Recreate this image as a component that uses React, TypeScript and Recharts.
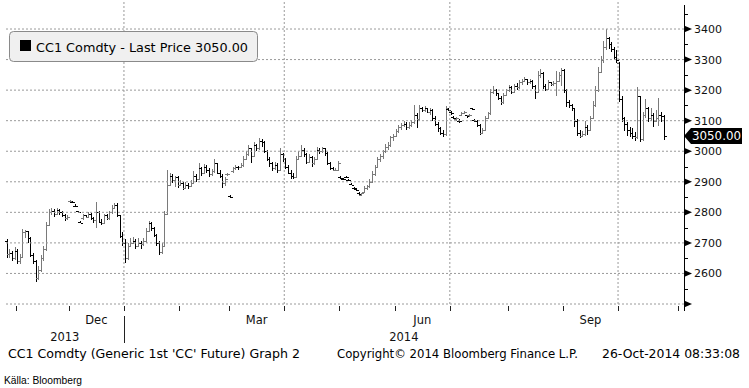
import React from 'react';
import { ComposedChart, Bar, XAxis, YAxis, ReferenceLine } from 'recharts';

// ---- Data: CC1 Comdty daily OHLC, 28-Oct-2013 .. 24-Oct-2014 (trading-day index) ----
const opens = [
  2705, 2665, 2668, 2652, 2675, 2640, 2655, 2735, 2738, 2715,
  2662, 2640, 2585, 2612, 2650, 2680, 2760, 2800, 2805, 2795,
  2808, 2800, 2790, 2780, 2836, 2835, 2822, 2803, 2768, 2780,
  2790, 2785, 2795, 2780, 2775, 2800, 2770, 2765, 2790, 2780,
  2800, 2815, 2825, 2790, 2722, 2700, 2650, 2690, 2700, 2705,
  2690, 2700, 2695, 2705, 2740, 2765, 2750, 2725, 2700, 2670,
  2690, 2795, 2890, 2920, 2905, 2915, 2890, 2895, 2880, 2890,
  2885, 2895, 2920, 2910, 2945, 2930, 2950, 2940, 2925, 2935,
  2960, 2930, 2920, 2895, 2925, 2852, 2935, 2945, 2950, 2948,
  2955, 2975, 2990, 3010, 2985, 3020, 3010, 3035, 3030, 3000,
  2975, 2960, 2945, 2955, 2940, 2990, 2975, 2950, 2930, 2920,
  2915, 2975, 2985, 3005, 2990, 2965, 2980, 2960, 2975, 3005,
  3000, 3010, 2995, 2960, 2945, 2940, 2940, 2915, 2910, 2917,
  2906, 2893, 2880, 2877, 2862, 2858, 2865, 2880, 2885, 2900,
  2925, 2950, 2975, 2985, 3000, 3015, 3020, 3045, 3050, 3065,
  3080, 3085, 3090, 3080, 3085, 3095, 3120, 3105, 3140, 3135,
  3140, 3130, 3135, 3110, 3090, 3075, 3060, 3055, 3138, 3128,
  3112, 3106, 3100, 3118, 3126, 3117, 3118, 3140, 3102, 3100,
  3085, 3060, 3070, 3110, 3125, 3195, 3200, 3190, 3175, 3160,
  3185, 3200, 3210, 3195, 3215, 3210, 3225, 3230, 3235, 3225,
  3230, 3215, 3195, 3250, 3255, 3215, 3205, 3225, 3220, 3222,
  3230, 3250, 3265, 3200, 3160, 3150, 3140, 3100, 3060, 3050,
  3055, 3080, 3070, 3110, 3150, 3200, 3260, 3300, 3340, 3370,
  3350, 3335, 3310, 3290, 3170, 3110, 3090, 3070, 3060, 3050,
  3045, 3180, 3040, 3120, 3140, 3110, 3120, 3100, 3110, 3120, 3115,
];
const highs = [
  2713, 2680, 2675, 2685, 2680, 2665, 2745, 2743, 2740, 2720,
  2668, 2645, 2625, 2660, 2690, 2770, 2812, 2815, 2810, 2815,
  2812, 2805, 2795, 2792, 2840, 2837, 2826, 2806, 2772, 2795,
  2792, 2800, 2798, 2785, 2835, 2805, 2778, 2795, 2795, 2805,
  2825, 2832, 2830, 2792, 2735, 2712, 2700, 2715, 2720, 2712,
  2715, 2705, 2715, 2750, 2773, 2770, 2752, 2730, 2705, 2700,
  2805, 2938, 2930, 2925, 2920, 2918, 2905, 2898, 2900, 2895,
  2905, 2935, 2925, 2960, 2950, 2958, 2955, 2945, 2942, 2975,
  2962, 2940, 2925, 2915, 2930, 2856, 2948, 2955, 2952, 2960,
  2985, 3000, 3020, 3012, 3030, 3025, 3042, 3040, 3032, 3005,
  2982, 2965, 2965, 2960, 3010, 2995, 2978, 2955, 2938, 2930,
  2985, 3000, 3020, 3010, 2995, 2990, 2985, 2982, 3015, 3010,
  3015, 3012, 2998, 2965, 2950, 2945, 2968, 2918, 2913, 2920,
  2910, 2897, 2884, 2880, 2865, 2864, 2885, 2890, 2910, 2935,
  2955, 2980, 2992, 3005, 3025, 3030, 3050, 3058, 3072, 3085,
  3092, 3098, 3095, 3095, 3102, 3150, 3125, 3150, 3145, 3148,
  3142, 3140, 3138, 3115, 3095, 3080, 3068, 3148, 3142, 3132,
  3115, 3112, 3104, 3128, 3132, 3120, 3122, 3143, 3105, 3102,
  3090, 3075, 3115, 3130, 3205, 3215, 3205, 3192, 3180, 3190,
  3205, 3218, 3212, 3220, 3222, 3232, 3238, 3242, 3238, 3235,
  3232, 3218, 3262, 3268, 3258, 3220, 3232, 3228, 3230, 3262,
  3258, 3272, 3268, 3205, 3168, 3155, 3142, 3105, 3068, 3065,
  3100, 3085, 3115, 3165, 3215, 3275, 3312, 3362, 3400, 3375,
  3358, 3340, 3330, 3292, 3180, 3112, 3095, 3080, 3075, 3062,
  3210, 3182, 3130, 3170, 3145, 3140, 3125, 3135, 3175, 3130, 3120,
];
const lows = [
  2650, 2650, 2640, 2645, 2632, 2630, 2650, 2715, 2700, 2655,
  2630, 2572, 2580, 2605, 2640, 2675, 2755, 2790, 2785, 2790,
  2792, 2785, 2772, 2775, 2834, 2831, 2818, 2798, 2764, 2775,
  2780, 2780, 2775, 2765, 2750, 2765, 2760, 2762, 2775, 2775,
  2795, 2810, 2785, 2715, 2690, 2635, 2645, 2685, 2695, 2680,
  2685, 2680, 2690, 2700, 2735, 2740, 2720, 2690, 2662, 2665,
  2688, 2790, 2885, 2895, 2882, 2880, 2885, 2872, 2875, 2878,
  2882, 2892, 2898, 2905, 2920, 2925, 2930, 2915, 2920, 2930,
  2925, 2912, 2880, 2885, 2920, 2847, 2930, 2940, 2940, 2944,
  2950, 2970, 2985, 2960, 2980, 3000, 3005, 3015, 2995, 2968,
  2950, 2935, 2940, 2930, 2935, 2965, 2942, 2925, 2910, 2908,
  2912, 2970, 2980, 2982, 2958, 2960, 2950, 2955, 2970, 2990,
  2995, 2985, 2955, 2940, 2935, 2935, 2935, 2910, 2905, 2912,
  2902, 2888, 2876, 2870, 2856, 2855, 2862, 2872, 2880, 2895,
  2920, 2945, 2965, 2975, 2995, 3005, 3015, 3035, 3045, 3060,
  3070, 3078, 3070, 3072, 3080, 3090, 3075, 3100, 3128, 3130,
  3125, 3120, 3100, 3082, 3062, 3052, 3048, 3050, 3132, 3120,
  3104, 3100, 3094, 3115, 3122, 3110, 3112, 3134, 3096, 3080,
  3052, 3055, 3065, 3105, 3120, 3188, 3180, 3168, 3152, 3155,
  3180, 3195, 3188, 3190, 3200, 3205, 3218, 3225, 3218, 3220,
  3205, 3172, 3190, 3240, 3205, 3198, 3200, 3212, 3215, 3180,
  3225, 3215, 3190, 3145, 3140, 3132, 3080, 3050, 3042, 3045,
  3050, 3052, 3065, 3105, 3145, 3195, 3255, 3290, 3330, 3335,
  3325, 3300, 3290, 3160, 3095, 3065, 3050, 3045, 3040, 3035,
  3040, 3030, 3035, 3110, 3095, 3100, 3080, 3095, 3082, 3095, 3038,
];
const closes = [
  2665, 2668, 2652, 2675, 2640, 2655, 2735, 2738, 2715, 2662,
  2640, 2585, 2612, 2650, 2680, 2760, 2800, 2805, 2795, 2808,
  2800, 2790, 2780, 2785, 2838, 2833, 2820, 2800, 2766, 2790,
  2785, 2795, 2780, 2775, 2800, 2770, 2765, 2790, 2780, 2800,
  2815, 2825, 2790, 2722, 2700, 2650, 2690, 2700, 2705, 2690,
  2700, 2695, 2705, 2740, 2765, 2750, 2725, 2700, 2670, 2690,
  2795, 2890, 2920, 2905, 2915, 2890, 2895, 2880, 2890, 2885,
  2895, 2920, 2910, 2945, 2930, 2950, 2940, 2925, 2935, 2960,
  2930, 2920, 2895, 2910, 2926, 2850, 2945, 2950, 2948, 2955,
  2975, 2990, 3010, 2985, 3020, 3010, 3035, 3030, 3000, 2975,
  2960, 2945, 2955, 2940, 2990, 2975, 2950, 2930, 2920, 2915,
  2975, 2985, 3005, 2990, 2965, 2980, 2960, 2975, 3005, 3000,
  3010, 2995, 2960, 2945, 2940, 2940, 2962, 2912, 2908, 2915,
  2905, 2890, 2879, 2873, 2860, 2862, 2880, 2885, 2900, 2925,
  2950, 2975, 2985, 3000, 3015, 3020, 3045, 3050, 3065, 3080,
  3085, 3090, 3080, 3085, 3095, 3120, 3105, 3140, 3135, 3140,
  3130, 3135, 3110, 3090, 3075, 3060, 3055, 3140, 3136, 3124,
  3108, 3110, 3098, 3125, 3130, 3114, 3120, 3138, 3100, 3085,
  3060, 3070, 3110, 3125, 3195, 3200, 3190, 3175, 3160, 3185,
  3200, 3210, 3195, 3215, 3210, 3225, 3230, 3235, 3225, 3230,
  3215, 3195, 3250, 3255, 3215, 3205, 3225, 3220, 3222, 3230,
  3250, 3265, 3200, 3160, 3150, 3140, 3100, 3060, 3050, 3055,
  3080, 3070, 3110, 3150, 3200, 3260, 3300, 3340, 3370, 3350,
  3335, 3310, 3300, 3170, 3110, 3090, 3070, 3060, 3050, 3045,
  3180, 3040, 3120, 3140, 3110, 3120, 3100, 3110, 3120, 3115, 3050,
];

// x-axis (trading-day index) ticks
const monthStarts = [3.5, 23.5, 44.5, 65.5, 84.5, 105.5, 126.5, 147.5, 168.5, 190.5, 211.5, 232.5, 255.5];
const monthLabels = ['Dec', 'Mar', 'Jun', 'Sep'];
const monthLabelPos = [34, 95, 158, 222];
const yearLabels = ['2013', '2014'];
const yearLabelPos = [22, 151];
const yearStart = 44.5;
const quarterLines = [44.5, 105.5, 168.5, 232.5];
const priceTicks = [2500, 2600, 2700, 2800, 2900, 3000, 3100, 3200, 3300, 3400];
const minorTicks = [2550, 2650, 2750, 2850, 2950, 3050, 3150, 3250, 3350, 3450];

const W = 749;
const H = 388;
const PLOT_BOTTOM = 304;
const PLOT_RIGHT = 684;
const FONT = "'DejaVu Sans', Verdana, sans-serif";

const rows = opens.map((o, i) => ({
  i,
  o,
  h: highs[i],
  l: lows[i],
  c: closes[i],
  range: [lows[i], highs[i]],
}));
const lastClose = closes[closes.length - 1];

const OhlcShape = (props: any) => {
  const { x, y, width, height, payload } = props;
  if (x == null || y == null || !payload) return null;
  const top = Math.min(y, y + height);
  const bot = Math.max(y, y + height);
  const span = payload.h - payload.l || 1;
  const toY = (v: number) => top + ((payload.h - v) / span) * (bot - top);
  const cx = Math.round(x + width / 2) + 0.5;
  const up = payload.c >= payload.o;
  const col = up ? '#7a7a7a' : '#000';
  const yo = Math.round(toY(payload.o)) + 0.5;
  const yc = Math.round(toY(payload.c)) + 0.5;
  return (
    <g stroke={col} strokeWidth={1} shapeRendering="crispEdges">
      <line x1={cx} x2={cx} y1={top} y2={Math.max(bot, top + 1)} />
      <line x1={cx - 2.5} x2={cx} y1={yo} y2={yo} />
      <line x1={cx} x2={cx + 2.5} y1={yc} y2={yc} />
    </g>
  );
};

const XTick = (props: any) => {
  const { x, payload } = props;
  const v = payload.value;
  const px = Math.round(x) + 0.5;
  const els: any[] = [];
  if (monthStarts.indexOf(v) >= 0) {
    els.push(<line key="t" x1={px} x2={px} y1={PLOT_BOTTOM + 2} y2={PLOT_BOTTOM + 7} stroke="#222" />);
    if (v === yearStart) {
      els.push(<line key="s" x1={px} x2={px} y1={316} y2={343} stroke="#222" />);
    }
  }
  const mi = monthLabelPos.indexOf(v);
  if (mi >= 0) {
    els.push(
      <text key="m" x={x} y={324} textAnchor="middle" fontFamily={FONT} fontSize={11.5} fill="#111">
        {monthLabels[mi]}
      </text>
    );
  }
  const yi = yearLabelPos.indexOf(v);
  if (yi >= 0) {
    els.push(
      <text key="y" x={x} y={341} textAnchor="middle" fontFamily={FONT} fontSize={11.5} fill="#111">
        {yearLabels[yi]}
      </text>
    );
  }
  return <g>{els}</g>;
};

const YTick = (props: any) => {
  const { y, payload } = props;
  const v = payload.value;
  const ax = PLOT_RIGHT;
  if (priceTicks.indexOf(v) >= 0) {
    return (
      <g>
        <path d={`M${ax},${y - 3.5} L${ax + 8},${y} L${ax},${y + 3.5} Z`} fill="#000" />
        {v !== priceTicks[0] && (
          <text x={ax + 10} y={y + 4} fontFamily={FONT} fontSize={11} fill="#111">
            {v}
          </text>
        )}
      </g>
    );
  }
  const py = Math.round(y) + 0.5;
  return <line x1={ax} x2={ax + 4} y1={py} y2={py} stroke="#000" />;
};

const Badge = (props: any) => {
  const vb = props.viewBox || {};
  const y = vb.y;
  if (y == null) return null;
  const x0 = PLOT_RIGHT;
  return (
    <g>
      <path d={`M${x0},${y} L${x0 + 7},${y - 8} L${W - 7},${y - 8} L${W - 7},${y + 8} L${x0 + 7},${y + 8} Z`} fill="#000" />
      <text x={x0 + 8} y={y + 4.5} fontFamily={FONT} fontSize={11.5} fill="#fff" textLength={49} lengthAdjust="spacingAndGlyphs">
        {lastClose.toFixed(2)}
      </text>
    </g>
  );
};

export default function App() {
  const xTicks = [...monthStarts, ...monthLabelPos, ...yearLabelPos];
  return (
    <div style={{ position: 'absolute', left: 0, top: 0, width: W, height: H, background: '#fff' }}>
      <ComposedChart width={W} height={H} data={rows} margin={{ top: 0, right: 0, left: 5, bottom: 54 }}>
        <XAxis
          dataKey="i"
          type="number"
          domain={[-0.76, 257.6]}
          ticks={xTicks}
          interval={0}
          axisLine={false}
          tickLine={false}
          tickSize={0}
          tickMargin={0}
          height={30}
          tick={<XTick />}
          allowDecimals
        />
        <YAxis
          orientation="right"
          type="number"
          domain={[2500, 3495]}
          ticks={[...priceTicks, ...minorTicks]}
          interval={0}
          width={65}
          axisLine={false}
          tickLine={false}
          tick={<YTick />}
        />
        {priceTicks.map((v) => (
          <ReferenceLine key={'h' + v} y={v} stroke="#9a9a9a" strokeDasharray="2 2" />
        ))}
        {quarterLines.map((v) => (
          <ReferenceLine key={'v' + v} x={v} stroke="#9a9a9a" strokeDasharray="2 2" />
        ))}
        <Bar dataKey="range" barSize={2} shape={(p: any) => <OhlcShape {...p} />} isAnimationActive={false} />
        <ReferenceLine y={lastClose} stroke="none" ifOverflow="visible" label={(p: any) => <Badge {...p} />} />
      </ComposedChart>
      <svg width={W} height={H} style={{ position: 'absolute', left: 0, top: 0, pointerEvents: 'none' }}>
        <line x1={PLOT_RIGHT + 0.5} x2={PLOT_RIGHT + 0.5} y1={5} y2={311} stroke="#000" />
        <rect x={9.5} y={31.5} width={248} height={30} rx={4} fill="#f0f0f0" stroke="#8a8a8a" />
        <rect x={20} y={40} width={11} height={11} fill="#000" />
        <text x={36} y={51.5} fontFamily={FONT} fontSize={12.8} fill="#000" textLength={212} lengthAdjust="spacingAndGlyphs">
          {`CC1 Comdty - Last Price ${lastClose.toFixed(2)}`}
        </text>
        <text x={8} y={358} fontFamily={FONT} fontSize={12} fill="#000" textLength={292} lengthAdjust="spacingAndGlyphs">
          CC1 Comdty (Generic 1st 'CC' Future) Graph 2
        </text>
        <text x={337} y={358} fontFamily={FONT} fontSize={12} fill="#000" textLength={241} lengthAdjust="spacingAndGlyphs">
          Copyright© 2014 Bloomberg Finance L.P.
        </text>
        <text x={602} y={358} fontFamily={FONT} fontSize={12} fill="#000" textLength={138} lengthAdjust="spacingAndGlyphs">
          26-Oct-2014 08:33:08
        </text>
        <text x={4} y={384} fontFamily="'Liberation Sans', Arial, sans-serif" fontSize={10.5} fill="#000" textLength={78} lengthAdjust="spacingAndGlyphs">
          Källa: Bloomberg
        </text>
      </svg>
    </div>
  );
}
